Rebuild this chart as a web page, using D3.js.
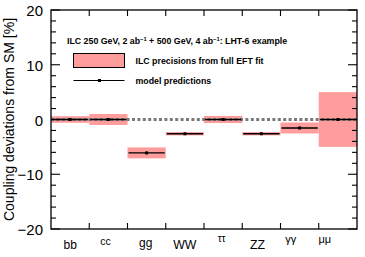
<!DOCTYPE html>
<html><head><meta charset="utf-8">
<script src="https://cdn.jsdelivr.net/npm/d3@7"></script>
<style>body{margin:0;background:#fff}svg{display:block}text{font-family:"Liberation Sans",Arial,sans-serif}</style>
</head><body><svg id="c" width="365" height="257"></svg>
<script>
const categories = ["bb","cc","gg","WW","ττ","ZZ","γγ","μμ"];
const predictions = [0, 0, -6.1, -2.6, 0, -2.6, -1.55, 0];
const precisions = [0.6, 1.0, 1.0, 0.3, 0.65, 0.3, 1.0, 5.0];
const yTicks = [-20, -10, 0, 10, 20];
const yTickLabels = ["\u221220", "\u221210", "0", "10", "20"];

// label styling (offsets from band centre, baseline, size)
const labelStyle = {
  "bb": {dx: 0,   base: 249,   size: 12,   serif: false},
  "cc": {dx: -3,  base: 245,   size: 10.5, serif: false},
  "gg": {dx: -1,  base: 247.3, size: 12,   serif: false},
  "WW": {dx: 0,   base: 248.5, size: 12.3, serif: false},
  "ττ": {dx: -1.5,base: 241.7, size: 10,   serif: true},
  "ZZ": {dx: -3.8,base: 249,   size: 12.3, serif: false},
  "γγ": {dx: -9,  base: 242.5, size: 11,   serif: true},
  "μμ": {dx: -13, base: 242.5, size: 11,   serif: true}
};

const svg = d3.select("#c");
const L = 51, R = 357, T = 10, B = 229;
const x = d3.scaleBand().domain(categories).range([L, R]).padding(0);
const y = d3.scaleLinear().domain([-20, 20]).range([B, T]);

// y label (drawn first, under everything)
svg.append("text").attr("transform", `translate(9,${(T+B)/2}) rotate(-90)`).attr("text-anchor", "middle")
  .attr("font-size", 14).attr("dy", "0.35em").text("Coupling deviations from SM [%]");

// bands
svg.append("g").selectAll("rect").data(categories).join("rect")
  .attr("x", d => x(d)).attr("width", x.bandwidth())
  .attr("y", (d,i) => y(predictions[i] + precisions[i]))
  .attr("height", (d,i) => y(predictions[i] - precisions[i]) - y(predictions[i] + precisions[i]))
  .attr("fill", "#ff9c9c");

// zero dashed line
svg.append("line").attr("x1", L).attr("x2", R).attr("y1", y(0)).attr("y2", y(0))
  .attr("stroke", "#7a7a7a").attr("stroke-width", 3).attr("stroke-dasharray", "3,2.4");

// predictions
const pg = svg.append("g");
pg.selectAll("line").data(categories).join("line")
  .attr("x1", d => x(d) + 1).attr("x2", d => x(d) + x.bandwidth() - 1)
  .attr("y1", (d,i) => y(predictions[i])).attr("y2", (d,i) => y(predictions[i]))
  .attr("stroke", "#000").attr("stroke-width", 1.3);
pg.selectAll("rect").data(categories).join("rect")
  .attr("x", d => x(d) + x.bandwidth()/2 - 1.5).attr("y", (d,i) => y(predictions[i]) - 1.5)
  .attr("width", 3).attr("height", 3).attr("fill", "#000");

// frame
svg.append("rect").attr("x", L).attr("y", T).attr("width", R-L).attr("height", B-T)
  .attr("fill", "none").attr("stroke", "#000").attr("stroke-width", 1.3);

// y axes
const minor = d3.range(-20, 21, 2);
const ax = svg.append("g");
minor.forEach(v => {
  const len = v % 10 === 0 ? 9 : 5;
  ax.append("line").attr("x1", L).attr("x2", L + len).attr("y1", y(v)).attr("y2", y(v)).attr("stroke", "#000").attr("stroke-width", 1.1);
  ax.append("line").attr("x1", R).attr("x2", R - len).attr("y1", y(v)).attr("y2", y(v)).attr("stroke", "#000").attr("stroke-width", 1.1);
});
const yAxis = d3.axisLeft(y).tickValues(yTicks).tickSize(0).tickPadding(8)
  .tickFormat(d => yTickLabels[yTicks.indexOf(d)]);
svg.append("g").attr("transform", `translate(${L},0)`).call(yAxis)
  .call(g => { g.select(".domain").remove(); g.selectAll("text").attr("font-size", 15).attr("fill", "#000").attr("dy", "0.38em").attr("font-family", "Liberation Sans, Arial, sans-serif"); });

// x ticks at boundaries
categories.slice(1).forEach(c => {
  ax.append("line").attr("x1", x(c)).attr("x2", x(c)).attr("y1", B).attr("y2", B - 6).attr("stroke", "#000").attr("stroke-width", 1.1);
  ax.append("line").attr("x1", x(c)).attr("x2", x(c)).attr("y1", T).attr("y2", T + 6).attr("stroke", "#000").attr("stroke-width", 1.1);
});
const xAxis = d3.axisBottom(x).tickSize(0).tickPadding(0);
svg.append("g").call(xAxis)
  .call(g => { g.select(".domain").remove(); g.selectAll(".tick").attr("transform", d => `translate(${x(d) + x.bandwidth()/2},0)`);
    g.selectAll("text").attr("fill", "#000")
    .attr("font-family", d => labelStyle[d].serif ? "DejaVu Serif, Liberation Serif, serif" : "Liberation Sans, Arial, sans-serif")
    .attr("font-size", d => labelStyle[d].size)
    .attr("x", d => labelStyle[d].dx).attr("y", d => labelStyle[d].base).attr("dy", 0); });

// legend
const lg = svg.append("g").attr("font-weight", "bold").attr("font-size", 8.8);
const t1 = lg.append("text").attr("x", 67).attr("y", 44);
t1.append("tspan").text("ILC 250 GeV, 2 ab");
t1.append("tspan").attr("font-size", 5.8).attr("dy", -3.2).text("−1");
t1.append("tspan").attr("dy", 3.2).text(" + 500 GeV, 4 ab");
t1.append("tspan").attr("font-size", 5.8).attr("dy", -3.2).text("−1");
t1.append("tspan").attr("dy", 3.2).text(": LHT-6 example");
lg.append("rect").attr("x", 73.5).attr("y", 53.5).attr("width", 51).attr("height", 14).attr("fill", "#ff9c9c").attr("stroke", "#000").attr("stroke-width", 1);
lg.append("text").attr("x", 135.5).attr("y", 63.5).text("ILC precisions from full EFT fit");
lg.append("line").attr("x1", 73.5).attr("x2", 124.5).attr("y1", 80.5).attr("y2", 80.5).attr("stroke", "#000").attr("stroke-width", 1.1);
lg.append("rect").attr("x", 98).attr("y", 79).attr("width", 3).attr("height", 3).attr("fill", "#000");
lg.append("text").attr("x", 135.5).attr("y", 83.5).text("model predictions");
</script></body></html>
